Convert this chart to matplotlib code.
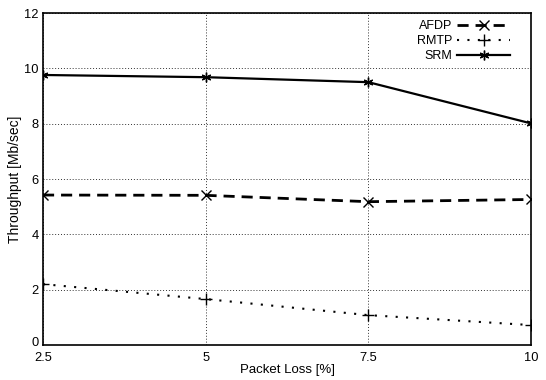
import matplotlib
matplotlib.use("Agg")
import matplotlib.pyplot as plt
import matplotlib.transforms as mtransforms

packet_loss = [2.5, 5, 7.5, 10]
afdp = [5.42, 5.41, 5.18, 5.26]
rmtp = [2.2, 1.66, 1.08, 0.72]
srm = [9.76, 9.68, 9.5, 8.01]
xticks = [2.5, 5, 7.5, 10]
xtick_labels = ["2.5", "5", "7.5", "10"]
yticks = [0, 2, 4, 6, 8, 10, 12]

plt.rcParams['font.family'] = ['Liberation Sans', 'DejaVu Sans']
fig = plt.figure(figsize=(5.46, 3.8), dpi=100)
ax = fig.add_axes([43/546, 1-345/380, (531-43)/546, (345-13)/380])

ax.plot(packet_loss, afdp, color='black', lw=2, linestyle=(0, (4, 2.5)), marker='x', ms=7, mew=1, label='AFDP')
ax.plot(packet_loss, rmtp, color='black', lw=1.5, linestyle=(0, (1, 4)), marker='+', ms=9, mew=1, label='RMTP')
ax.plot(packet_loss, srm, color='black', lw=1.6, linestyle='-', marker=(6, 2, 0), ms=7, mew=1, label='SRM')

ax.set_xlim(2.5, 10)
ax.set_ylim(0, 12)
ax.set_xticks(xticks)
ax.set_xticklabels(xtick_labels)
ax.set_yticks(yticks)
ax.grid(True, color='#333333', linestyle=(0, (1, 2)), lw=0.7)
ax.tick_params(length=0, labelsize=9.3)
ax.tick_params(axis='y', pad=3)
ax.tick_params(axis='x', pad=5)
for s in ax.spines.values():
    s.set_linewidth(1.2)
ax.set_xlabel('Packet Loss [%]', fontsize=9.5, labelpad=0)
ax.set_ylabel('Throughput [Mb/sec]', fontsize=10, labelpad=2)

# raise the "0" label slightly as in the reference
lbl0 = ax.get_yticklabels()[0]
lbl0.set_transform(lbl0.get_transform() + mtransforms.ScaledTranslation(0, 3/100, fig.dpi_scale_trans))

leg = ax.legend(loc='upper right', bbox_to_anchor=(0.962, 0.986), frameon=False,
                markerfirst=False, fontsize=9, handlelength=4.2, handletextpad=0.4,
                borderaxespad=0, borderpad=0.2, labelspacing=0.25)
for t in leg.get_texts():
    t.set_ha('right')

fig.savefig('out.png', dpi=100)
